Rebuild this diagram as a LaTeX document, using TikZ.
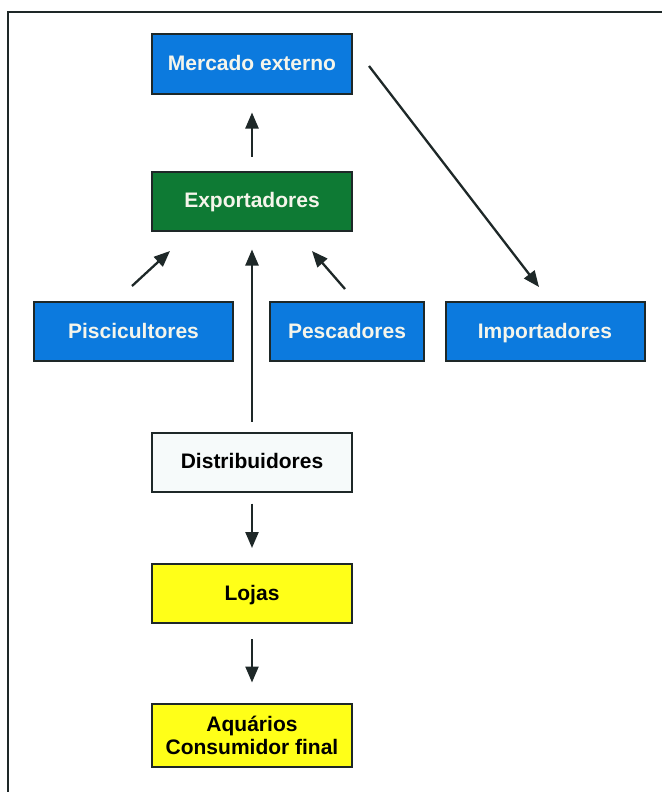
\documentclass[tikz,border=0pt]{standalone}
\usepackage{fontspec}
\setmainfont{Liberation Sans}
\usetikzlibrary{arrows.meta}
\definecolor{bxblue}{RGB}{12,122,222}
\definecolor{bxgreen}{RGB}{14,122,52}
\definecolor{bxyellow}{RGB}{255,255,24}
\definecolor{bxwhite}{RGB}{246,250,250}
\definecolor{bxline}{RGB}{30,40,40}
\definecolor{bxtext}{RGB}{245,245,235}
\tikzset{
  box/.style={draw=bxline, line width=2pt, minimum width=200pt, minimum height=59pt,
    inner sep=0pt, align=center, font=\fontsize{21}{23}\selectfont\bfseries},
  onebox/.style={box, text height=16pt, text depth=3pt},
  bluebox/.style={onebox, fill=bxblue, text=bxtext},
  greenbox/.style={onebox, fill=bxgreen, text=bxtext},
  yellowbox/.style={onebox, fill=bxyellow, text=black},
  whitebox/.style={onebox, fill=bxwhite, text=black},
  flow/.style={draw=bxline, line width=2.3pt, -{Triangle[length=16pt,width=13pt]}},
}
\begin{document}
\begin{tikzpicture}[x=1pt,y=-1pt]
\useasboundingbox (0,0) rectangle (661,792);
\fill[white] (0,0) rectangle (661,792);
\draw[bxline, line width=2.5pt] (8,795) -- (8,12) -- (665,12);

\node[bluebox] (merc) at (252,64) {Mercado externo};
\node[greenbox] (exp) at (252,201) {Exportadores};
\node[bluebox, minimum width=199pt] (pisc) at (133.5,331.5) {Piscicultores};
\node[bluebox, minimum width=154pt] (pesc) at (347,331.5) {Pescadores};
\node[bluebox, minimum width=199pt] (imp) at (545,331.5) {Importadores};
\node[whitebox] (dist) at (252,462) {Distribuidores};
\node[yellowbox] (lojas) at (252,593.5) {Lojas};
\node[box, fill=bxyellow, text=black, minimum height=63pt] (aqu) at (252,735) {Aquários\\Consumidor final};

\coordinate (pa) at (132,286);
\coordinate (pb) at (170,251);
\coordinate (qa) at (345,289);
\coordinate (qb) at (312,251);
\coordinate (ma) at (369,66);
\coordinate (mb) at (539,287);

\draw[flow, shorten <=14pt, shorten >=18pt] (exp.north) -- (merc.south);
\draw[flow] (pa) -- (pb);
\draw[flow] (qa) -- (qb);
\draw[flow, shorten <=10pt, shorten >=18pt] (dist.north) -- (exp.south);
\draw[flow] (ma) -- (mb);
\draw[flow, shorten <=11pt, shorten >=15pt] (dist.south) -- (lojas.north);
\draw[flow, shorten <=15pt, shorten >=20pt] (lojas.south) -- (aqu.north);
\end{tikzpicture}
\end{document}
